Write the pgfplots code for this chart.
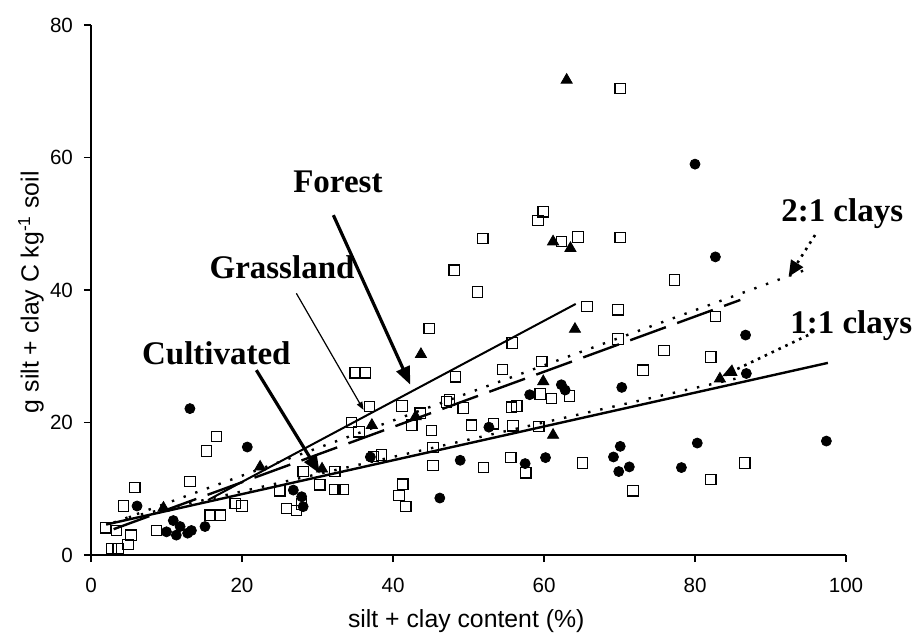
\documentclass[border=0pt]{standalone}
\usepackage{fontspec}
\setmainfont{Liberation Sans}
\newfontfamily\tnr{Liberation Serif}
\usepackage{pgfplots}
\pgfplotsset{compat=1.18}
\usetikzlibrary{arrows.meta}

\begin{document}
\begin{tikzpicture}
\useasboundingbox (-45.5pt,-39.5pt) rectangle (412pt,277.5pt);
\begin{axis}[
  at={(0,0)}, anchor=south west,
  width=377.5pt, height=265pt, scale only axis,
  xmin=0, xmax=100, ymin=0, ymax=80,
  axis x line*=bottom, axis y line*=left,
  xtick={0,20,...,100}, ytick={0,20,...,80},
  tick align=outside, major tick length=3.5pt,
  tick style={line width=0.8pt, black},
  axis line style={line width=0.9pt},
  ticklabel style={font=\fontsize{10.3}{12}\selectfont},
  xticklabel style={yshift=-4.5pt},
  yticklabel style={xshift=-2pt},
  /pgf/number format/assume math mode=true,
  xlabel={silt + clay content (\%)},
  ylabel={g silt + clay C kg\textsuperscript{-1} soil},
  label style={font=\fontsize{12.4}{14}\selectfont},
  xlabel style={at={(axis description cs:0.497,-0.1245)}, anchor=center},
  ylabel style={at={(axis description cs:-0.0795,0.496)}, anchor=center},
  clip=false,
]
% open squares
\addplot[only marks, mark=square, mark size=2.6pt, mark options={line width=0.6pt, black, fill=white}] coordinates {
(70.1,70.4)(59.9,51.8)(59.2,50.5)(51.9,47.8)(62.3,47.3)(64.5,48.0)(70.1,47.9)(48.1,43.0)(51.2,39.7)(77.3,41.5)(65.7,37.5)(69.8,37.0)(82.7,36.0)(44.8,34.2)(69.8,32.6)(55.8,32.0)(59.7,29.2)(54.5,28.0)(73.1,27.9)(48.3,26.9)(75.9,30.9)(82.1,29.9)(47.5,23.4)(61.0,23.6)(63.4,24.0)(59.5,24.3)(49.3,22.2)(55.7,22.3)(56.4,22.5)(50.4,19.6)(53.3,19.8)(55.9,19.5)(59.3,19.4)(52.0,13.2)(55.6,14.7)(57.6,12.4)(65.1,13.9)(71.8,9.7)(82.1,11.4)(86.6,13.9)(45.3,16.2)(45.3,13.5)(35.0,27.5)(36.3,27.5)(47.1,23.1)(43.6,21.4)(42.5,19.6)(41.2,22.5)(36.9,22.4)(34.5,20.0)(35.5,18.6)(45.1,18.8)(37.4,14.9)(38.5,15.1)(32.3,12.6)(32.3,9.9)(33.4,9.9)(41.3,10.7)(40.8,9.0)(41.7,7.3)(28.1,12.6)(30.3,10.6)(16.6,17.9)(15.3,15.7)(13.1,11.1)(5.8,10.2)(4.3,7.4)(1.9,4.1)(3.4,3.7)(5.3,3.0)(4.9,1.6)(2.7,1.0)(3.6,1.0)(8.7,3.7)(15.8,6.0)(17.1,6.0)(19.1,7.8)(20.0,7.4)(25.0,9.7)(25.9,7.0)(27.2,6.7)(27.9,7.7)
};
% filled circles
\addplot[only marks, mark=*, mark size=2.5pt, mark options={black, fill=black}] coordinates {
(80.0,59.0)(82.7,45.0)(86.7,33.2)(86.8,27.4)(62.3,25.7)(62.8,24.9)(58.1,24.2)(70.3,25.3)(60.2,14.7)(70.1,16.4)(69.2,14.8)(69.9,12.6)(71.3,13.3)(80.3,16.9)(78.2,13.2)(97.4,17.2)(48.9,14.3)(57.5,13.8)(52.7,19.3)(37.0,14.8)(46.2,8.6)(13.1,22.1)(20.7,16.3)(6.1,7.4)(10.0,3.5)(10.9,5.2)(11.3,3.0)(11.8,4.3)(12.8,3.3)(13.3,3.7)(15.1,4.3)(26.8,9.8)(27.9,8.8)(28.1,7.3)
};
% filled triangles
\addplot[only marks, mark=triangle*, mark size=3.2pt, mark options={black, fill=black}] coordinates {
(63.0,71.7)(61.2,47.3)(63.5,46.3)(43.7,30.3)(64.1,34.1)(59.9,26.2)(83.3,26.6)(61.2,18.1)(43.0,20.9)(37.2,19.6)(22.4,13.3)(9.6,7.1)(30.6,13.0)
};
% regression lines
\addplot[black, line width=1pt] coordinates {(15.5,8.3)(64.2,37.9)};            % Forest
\addplot[black, line width=1.2pt, dash pattern=on 19pt off 6pt] coordinates {(3,3.9)(86,38.5)}; % Grassland
\addplot[black, line width=1.2pt, dash pattern=on 1.2pt off 5pt] coordinates {(3,4.9)(95.5,43.4)}; % 2:1 clays
\addplot[black, line width=1.2pt] coordinates {(2,4.6)(97.6,29.0)};             % Cultivated
\addplot[black, line width=1.2pt, dash pattern=on 1.2pt off 5pt] coordinates {(5,5.7)(88,27.3)}; % 1:1 clays

% labels and arrows
\node[font=\tnr\bfseries\fontsize{16.5}{18}\selectfont] at (axis cs:32.7,56.3) {Forest};
\node[font=\tnr\bfseries\fontsize{16.5}{18}\selectfont] at (axis cs:25.3,43.5) {Grassland};
\node[font=\tnr\bfseries\fontsize{16.5}{18}\selectfont] at (axis cs:16.6,30.5) {Cultivated};
\node[font=\tnr\bfseries\fontsize{16.5}{18}\selectfont] at (axis cs:99.5,51.6) {2:1 clays};
\node[font=\tnr\bfseries\fontsize{16.5}{18}\selectfont] at (axis cs:100.7,34.7) {1:1 clays};
\draw[line width=1.6pt, -{Triangle[length=9pt,width=7pt]}] (axis cs:32.1,51.3) -- (axis cs:42.3,25.7);
\draw[line width=0.6pt, -{Triangle[length=4pt,width=3pt]}] (axis cs:27.2,39.5) -- (axis cs:36.1,21.9);
\draw[line width=1.6pt, -{Triangle[length=9pt,width=7pt]}] (axis cs:21.9,27.9) -- (axis cs:30.3,12.3);
\draw[line width=1.3pt, dash pattern=on 1.3pt off 2.5pt, -{Triangle[length=8pt,width=7pt]}] (axis cs:95.9,48.3) -- (axis cs:92.4,42.0);
\draw[line width=1.3pt, dash pattern=on 1.3pt off 2.5pt, -{Triangle[length=7pt,width=6pt]}] (axis cs:95.0,33.2) -- (axis cs:83.6,27.0);
\end{axis}
\end{tikzpicture}
\end{document}
